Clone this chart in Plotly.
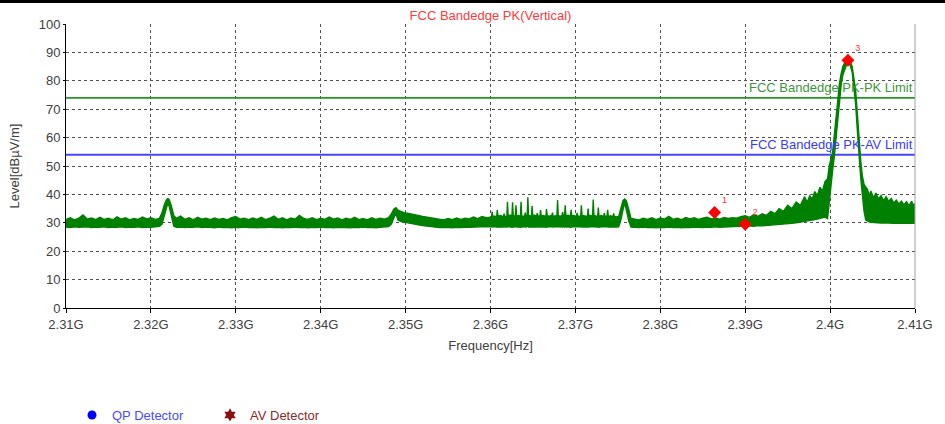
import plotly.graph_objects as go

# ---------------- data ----------------
# Spectrum trace drawn as a dense band: per-frequency max and min level.
freq_mhz = [
    # noise floor 2310-2321
    2310.0, 2310.5, 2311.0, 2311.5, 2312.0, 2312.5, 2313.0, 2313.5, 2314.0, 2314.5,
    2315.0, 2315.5, 2316.0, 2316.5, 2317.0, 2317.5, 2318.0, 2318.5, 2319.0, 2319.5,
    2320.0, 2320.5, 2321.0,
    # peak near 2322
    2321.3, 2321.6, 2321.85, 2322.0, 2322.15, 2322.4, 2322.7, 2323.0,
    # noise floor 2323.5-2348
    2323.5, 2324.0, 2324.5, 2325.0, 2325.5, 2326.0, 2326.5, 2327.0, 2327.5, 2328.0,
    2328.5, 2329.0, 2329.5, 2330.0, 2330.5, 2331.0, 2331.5, 2332.0, 2332.5, 2333.0,
    2333.5, 2334.0, 2334.5, 2335.0, 2335.5, 2336.0, 2336.5, 2337.0, 2337.5, 2338.0,
    2338.5, 2339.0, 2339.5, 2340.0, 2340.5, 2341.0, 2341.5, 2342.0, 2342.5, 2343.0,
    2343.5, 2344.0, 2344.5, 2345.0, 2345.5, 2346.0, 2346.5, 2347.0, 2347.5, 2348.0,
    # peak near 2349 with shoulder
    2348.3, 2348.6, 2348.85, 2349.1, 2349.4, 2349.8, 2350.2, 2350.6, 2351.0, 2351.5,
    2352.0, 2352.5, 2353.0, 2353.5, 2354.0,
    # noise floor 2354.5-2359.5
    2354.5, 2355.0, 2355.5, 2356.0, 2356.5, 2357.0, 2357.5, 2358.0, 2358.5, 2359.0,
    2359.5,
    # spur region 2360-2375
    2360.0, 2360.12, 2360.2, 2360.28, 2360.5, 2360.72, 2360.8, 2360.88, 2361.2, 2361.52,
    2361.6, 2361.68, 2361.92, 2362.0, 2362.08, 2362.3, 2362.52, 2362.6, 2362.68, 2362.92,
    2363.0, 2363.08, 2363.3, 2363.52, 2363.6, 2363.68, 2364.02, 2364.1, 2364.18, 2364.32,
    2364.4, 2364.48, 2364.82, 2364.9, 2364.98, 2365.2, 2365.42, 2365.5, 2365.58, 2365.82,
    2365.9, 2365.98, 2366.25, 2366.52, 2366.6, 2366.68, 2366.95, 2367.22, 2367.3, 2367.38,
    2367.62, 2367.82, 2367.9, 2367.98, 2368.2, 2368.42, 2368.5, 2368.58, 2368.72, 2368.8,
    2368.88, 2369.15, 2369.42, 2369.5, 2369.58, 2369.85, 2370.12, 2370.2, 2370.28, 2370.62,
    2370.7, 2370.78, 2371.1, 2371.42, 2371.5, 2371.58, 2371.8, 2372.02, 2372.1, 2372.18,
    2372.4, 2372.62, 2372.7, 2372.78, 2373.05, 2373.32, 2373.4, 2373.48, 2373.72, 2373.8,
    2373.88, 2374.15, 2374.42, 2374.5, 2374.58, 2374.8,
    # peak near 2376
    2375.1, 2375.35, 2375.6, 2375.8, 2376.0, 2376.3, 2376.55, 2377.0,
    # noise floor 2377.5-2392
    2377.5, 2378.0, 2378.5, 2379.0, 2379.5, 2380.0, 2380.5, 2381.0, 2381.5, 2382.0,
    2382.5, 2383.0, 2383.5, 2384.0, 2384.5, 2385.0, 2385.5, 2386.0, 2386.5, 2387.0,
    2387.5, 2388.0, 2388.5, 2389.0, 2389.5, 2390.0, 2390.5, 2391.0, 2391.5, 2392.0,
    # rising skirt
    2392.5, 2393.0, 2393.5, 2394.0, 2394.5, 2395.0, 2395.5, 2396.0, 2396.5, 2397.0,
    2397.3, 2397.6, 2397.9, 2398.2, 2398.5, 2398.8, 2399.1, 2399.4,
    # main carrier
    2399.7, 2399.9, 2400.1, 2400.3, 2400.5, 2400.7, 2400.9, 2401.1, 2401.3, 2401.5,
    2401.8, 2402.0, 2402.2, 2402.4, 2402.6, 2402.8, 2403.0, 2403.2, 2403.4, 2403.6,
    2403.8, 2404.0, 2404.2,
    # falling skirt
    2404.4, 2404.6, 2404.8, 2405.1, 2405.4, 2405.7, 2406.0, 2406.3, 2406.6, 2406.9,
    2407.2, 2407.5, 2407.8, 2408.1, 2408.4, 2408.7, 2409.0, 2409.3, 2409.6, 2409.8,
    2410.0,
]

level_max = [
    31.2, 31.8, 31.0, 31.6, 32.8, 31.3, 31.7, 31.1, 31.9, 31.2,
    31.6, 31.0, 32.1, 31.3, 31.8, 31.0, 31.5, 31.2, 32.0, 31.4,
    31.8, 31.2, 31.5,
    33.5, 36.5, 38.2, 38.5, 38.2, 36.0, 32.5, 31.6,
    32.4, 31.2, 31.8, 31.0, 31.9, 31.3, 31.6, 31.1, 31.7, 31.2,
    31.5, 31.0, 31.8, 32.2, 31.3, 31.6, 31.1, 31.7, 31.2, 31.9,
    31.1, 31.6, 32.4, 31.2, 31.8, 31.0, 31.7, 31.3, 32.6, 31.5,
    31.2, 31.8, 31.1, 31.6, 31.2, 32.0, 31.3, 31.7, 31.0, 31.6,
    31.2, 31.9, 31.1, 31.5, 31.0, 31.8, 31.2, 31.6, 31.3, 31.8,
    33.0, 34.8, 35.3, 34.5, 34.0, 33.6, 33.4, 33.2, 33.0, 32.6,
    32.2, 32.0, 31.6, 31.4, 31.2,
    31.0, 31.5, 31.1, 31.7, 31.2, 31.6, 31.4, 32.0, 31.5, 32.2,
    31.8,
    32.0, 32.3, 33.9, 32.1, 32.4, 32.0, 34.5, 32.3, 32.6, 32.1,
    33.2, 32.3, 32.0, 37.4, 32.4, 32.7, 32.2, 37.2, 32.3, 32.5,
    36.2, 32.2, 32.6, 32.1, 37.4, 32.3, 32.4, 33.6, 32.2, 32.5,
    39.0, 32.6, 32.3, 35.9, 32.4, 32.7, 32.2, 33.4, 32.5, 32.2,
    34.5, 32.3, 32.6, 32.2, 34.8, 32.5, 32.3, 32.6, 33.6, 32.2,
    32.5, 32.3, 38.0, 32.6, 32.3, 32.5, 33.8, 32.4, 32.2, 36.2,
    32.5, 32.7, 32.3, 34.6, 32.3, 32.6, 32.2, 33.5, 32.4, 32.3,
    36.2, 32.6, 32.4, 32.2, 35.0, 32.4, 32.6, 32.3, 38.2, 32.7,
    32.4, 32.2, 35.4, 32.3, 32.6, 32.2, 33.4, 32.4, 32.1, 34.6,
    32.2, 32.5, 32.2, 33.3, 32.3, 32.1,
    32.2, 35.0, 37.8, 38.4, 37.8, 34.5, 31.5, 31.3,
    31.0, 31.6, 31.2, 31.8, 31.1, 31.7, 31.3, 32.3, 31.2, 31.6,
    31.1, 31.9, 31.4, 31.8, 31.2, 31.6, 32.0, 31.4, 31.7, 31.3,
    31.9, 31.5, 31.8, 31.6, 32.2, 32.5, 31.9, 32.8, 32.3, 33.2,
    32.6, 34.0, 33.2, 35.0, 34.0, 36.2, 35.0, 37.3, 36.2, 39.2,
    37.2, 39.5, 38.4, 41.0, 39.6, 42.5, 41.2, 44.5,
    45.5, 50.0, 52.5, 55.0, 61.0, 67.5, 74.0, 79.0, 82.5, 85.0,
    86.8, 87.4, 87.4, 86.6, 85.0, 81.0, 76.8, 69.0, 60.0, 52.0,
    46.5, 43.5, 42.6,
    41.8, 39.5, 41.2, 38.8, 40.5, 38.4, 39.6, 37.8, 39.2, 37.5,
    38.6, 37.0, 38.0, 36.6, 37.6, 36.3, 37.4, 36.0, 37.6, 36.2,
    36.8,
]

level_min = [
    28.5, 28.3, 28.6, 28.4, 28.5, 28.6, 28.3, 28.5, 28.4, 28.6,
    28.3, 28.5, 28.4, 28.6, 28.3, 28.5, 28.4, 28.6, 28.3, 28.5,
    28.4, 28.6, 28.8,
    29.5, 32.5, 35.5, 37.0, 35.8, 32.0, 28.8, 28.4,
    28.5, 28.3, 28.5, 28.4, 28.6, 28.3, 28.5, 28.4, 28.2, 28.5,
    28.3, 28.4, 28.2, 28.4, 28.3, 28.5, 28.3, 28.4, 28.2, 28.4,
    28.3, 28.5, 28.3, 28.4, 28.2, 28.4, 28.3, 28.5, 28.3, 28.4,
    28.2, 28.4, 28.3, 28.5, 28.3, 28.4, 28.2, 28.4, 28.3, 28.4,
    28.2, 28.4, 28.3, 28.5, 28.3, 28.4, 28.2, 28.4, 28.5, 28.7,
    29.5, 32.0, 33.4, 31.0, 30.5, 30.3, 30.0, 29.8, 29.6, 29.3,
    29.0, 28.8, 28.6, 28.4, 28.3,
    28.3, 28.4, 28.2, 28.4, 28.3, 28.5, 28.4, 28.5, 28.6, 28.5,
    28.7,
    28.6, 28.7, 28.6, 28.5, 28.7, 28.5, 28.6, 28.4, 28.6, 28.5,
    28.7, 28.5, 28.6, 28.7, 28.5, 28.6, 28.4, 28.6, 28.5, 28.7,
    28.6, 28.5, 28.6, 28.4, 28.7, 28.5, 28.6, 28.7, 28.5, 28.6,
    28.8, 28.5, 28.6, 28.7, 28.5, 28.6, 28.5, 28.7, 28.5, 28.6,
    28.7, 28.5, 28.6, 28.4, 28.6, 28.5, 28.7, 28.5, 28.6, 28.5,
    28.7, 28.6, 28.7, 28.5, 28.6, 28.5, 28.6, 28.7, 28.5, 28.7,
    28.5, 28.6, 28.4, 28.6, 28.5, 28.7, 28.5, 28.6, 28.7, 28.5,
    28.7, 28.5, 28.6, 28.5, 28.6, 28.5, 28.7, 28.6, 28.7, 28.5,
    28.6, 28.5, 28.6, 28.4, 28.6, 28.5, 28.6, 28.7, 28.6, 28.7,
    28.5, 28.6, 28.5, 28.6, 28.5, 28.5,
    28.6, 31.0, 34.5, 37.0, 34.5, 30.5, 28.5, 28.4,
    28.3, 28.5, 28.3, 28.4, 28.2, 28.4, 28.3, 28.5, 28.3, 28.4,
    28.2, 28.4, 28.3, 28.5, 28.4, 28.3, 28.5, 28.4, 28.6, 28.4,
    28.5, 28.6, 28.7, 28.6, 28.7, 28.8, 28.9, 28.8, 29.0, 28.9,
    29.0, 29.1, 29.2, 29.3, 29.4, 29.6, 29.8, 30.0, 30.2, 30.4,
    30.5, 30.7, 30.9, 31.1, 31.3, 31.5, 31.8, 32.0,
    31.5, 38.0, 44.0, 48.5, 53.5, 60.0, 67.0, 73.5, 78.5, 82.0,
    85.0, 86.2, 86.4, 85.2, 83.0, 78.0, 72.0, 63.0, 53.0, 46.0,
    40.0, 34.0, 31.0,
    30.5, 30.3, 30.2, 30.1, 30.0, 30.0, 29.9, 30.0, 29.9, 29.8,
    29.9, 29.8, 29.9, 29.8, 29.9, 29.8, 29.9, 29.8, 29.9, 29.8,
    29.9,
]

assert len(freq_mhz) == len(level_max) == len(level_min)

pk_limit_dbuv = 74
av_limit_dbuv = 54
pk_limit_label = "FCC Bandedge PK-PK Limit"
av_limit_label = "FCC Bandedge PK-AV Limit"

marker_freq_mhz = [2386.4, 2390.0, 2402.1]
marker_level = [33.6, 29.5, 87.2]
marker_text = ["1", "2", "3"]

x_tick_hz = [2.31e9, 2.32e9, 2.33e9, 2.34e9, 2.35e9, 2.36e9,
             2.37e9, 2.38e9, 2.39e9, 2.40e9, 2.41e9]
x_tick_text = ["2.31G", "2.32G", "2.33G", "2.34G", "2.35G", "2.36G",
               "2.37G", "2.38G", "2.39G", "2.4G", "2.41G"]
y_ticks = [0, 10, 20, 30, 40, 50, 60, 70, 80, 90, 100]

# ---------------- figure ----------------
GREEN = "rgb(0,128,0)"
FONT = "Liberation Sans, Arial, sans-serif"
x_hz = [f * 1e6 for f in freq_mhz]
x_span = [x_tick_hz[0], x_tick_hz[-1]]

fig = go.Figure()

fig.add_trace(go.Scatter(x=x_span, y=[pk_limit_dbuv] * 2, mode="lines",
                         line=dict(color="#229922", width=1.6),
                         showlegend=False, hoverinfo="skip"))
fig.add_trace(go.Scatter(x=x_span, y=[av_limit_dbuv] * 2, mode="lines",
                         line=dict(color="#4646ff", width=2),
                         showlegend=False, hoverinfo="skip"))

fig.add_trace(go.Scatter(x=x_hz, y=level_min, mode="lines",
                         line=dict(color=GREEN, width=1.4),
                         showlegend=False, hoverinfo="skip"))
fig.add_trace(go.Scatter(x=x_hz, y=level_max, mode="lines",
                         line=dict(color=GREEN, width=1.4),
                         fill="tonexty", fillcolor=GREEN,
                         showlegend=False))

fig.add_trace(go.Scatter(x=[f * 1e6 for f in marker_freq_mhz], y=marker_level,
                         mode="markers+text", text=marker_text,
                         textposition="top right",
                         textfont=dict(color="#ff3030", size=9, family=FONT),
                         marker=dict(symbol="diamond", size=10, color="#ff0000"),
                         showlegend=False))

fig.add_trace(go.Scatter(x=[None], y=[None], mode="markers",
                         marker=dict(symbol="circle", size=9, color="#0000ff"),
                         name="<span style='color:#4a4aff'>QP Detector</span>"))
fig.add_trace(go.Scatter(x=[None], y=[None], mode="markers",
                         marker=dict(symbol="hexagram", size=10, color="#8b1010"),
                         name="<span style='color:#8b2a2a'>AV Detector</span>"))

fig.add_annotation(x=1, xref="paper", xanchor="right", y=pk_limit_dbuv, yref="y",
                   yanchor="bottom", yshift=1, text=pk_limit_label, showarrow=False,
                   font=dict(color="#3c963c", size=13, family=FONT))
fig.add_annotation(x=1, xref="paper", xanchor="right", y=av_limit_dbuv, yref="y",
                   yanchor="bottom", yshift=1, text=av_limit_label, showarrow=False,
                   font=dict(color="#3a3aff", size=13, family=FONT))

# right border (gray) and top black strip
fig.add_shape(type="line", xref="paper", yref="paper", x0=1, x1=1, y0=0, y1=1,
              line=dict(color="#a0a0a0", width=1))
fig.add_shape(type="rect", xref="paper", yref="paper", x0=-0.1, x1=1.1,
              y0=1 + 21 / 284, y1=1 + 26 / 284, fillcolor="black", line=dict(width=0))

fig.update_layout(
    width=945, height=424,
    margin=dict(l=66, r=20, t=24, b=116),
    paper_bgcolor="white", plot_bgcolor="white",
    font=dict(family=FONT, size=13, color="#404040"),
    title=dict(text="FCC Bandedge PK(Vertical)", x=0.5, xref="paper", xanchor="center",
               y=1 - 15 / 424, yref="container", yanchor="middle",
               font=dict(color="#ff3a3a", size=13, family=FONT)),
    showlegend=True,
    legend=dict(orientation="h", xref="container", yref="container",
                x=72 / 945, y=9 / 424, xanchor="left", yanchor="middle",
                traceorder="normal",
                font=dict(size=13, family=FONT),
                entrywidth=93, entrywidthmode="pixels",
                bgcolor="rgba(0,0,0,0)"),
)

fig.update_xaxes(range=[x_tick_hz[0], x_tick_hz[-1]], tickvals=x_tick_hz,
                 ticktext=x_tick_text, showgrid=True, gridcolor="#505050",
                 griddash="dot", gridwidth=1, showline=True, linecolor="black",
                 linewidth=1, ticks="outside", ticklen=4, tickcolor="black",
                 zeroline=False, tickfont=dict(size=13, color="#404040"),
                 title=dict(text="Frequency[Hz]", standoff=10,
                            font=dict(size=13, color="#404040")))
fig.update_yaxes(range=[0, 100], tickvals=y_ticks, showgrid=True, gridcolor="#505050",
                 griddash="dot", gridwidth=1, showline=True, linecolor="black",
                 linewidth=1, ticks="outside", ticklen=2, tickcolor="black",
                 zeroline=False, tickfont=dict(size=13, color="#404040"),
                 title=dict(text="Level[dBµV/m]", standoff=16,
                            font=dict(size=13, color="#404040")))

fig.write_html("out.html",
               config={"displayModeBar": False},
               post_script="document.body.style.margin='0px';"
                           "document.body.style.padding='0px';")
